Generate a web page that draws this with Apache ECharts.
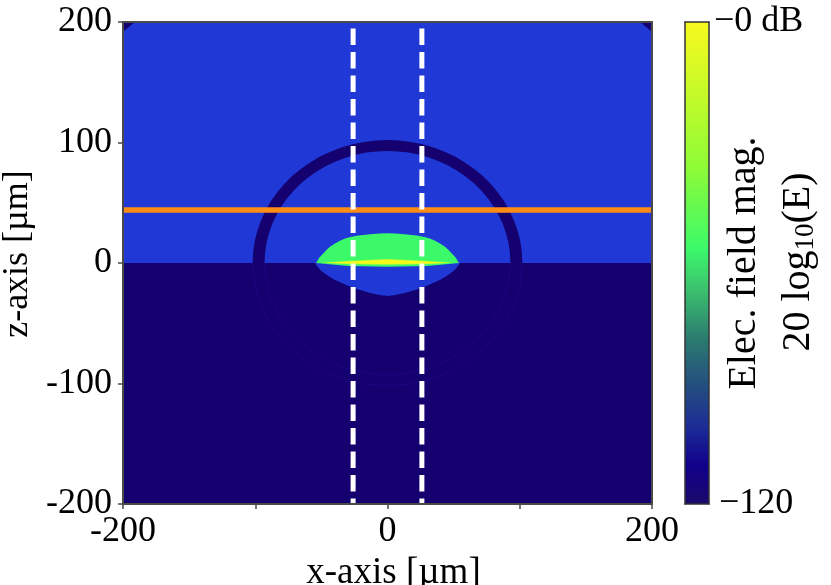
<!DOCTYPE html>
<html><head><meta charset="utf-8">
<style>html,body{margin:0;padding:0;background:#fff}#c{width:831px;height:585px}</style>
<script src="https://cdn.jsdelivr.net/npm/echarts@6/dist/echarts.min.js"></script>
</head><body><div id="c"></div>
<script>
// Axis ticks
const xTicks = [-200, -100, 0, 100, 200];
const xTickLabels = ['-200', '', '0', '', '200'];
const zTicks = [-200, -100, 0, 100, 200];
const zTickLabels = ['-200', '-100', '0', '100', '200'];

// Field regions as [x, z] in micrometres
const upperRegion = [[-200, 0], [200, 0], [200, 200], [-200, 200]];
const lowerRegion = [[-200, -200], [200, -200], [200, 0], [-200, 0]];
const cornerLeft = [[-200, 200], [-191, 200], [-200, 192]];
const cornerRight = [[200, 200], [191, 200], [200, 192]];
const ringUpper = [[102, 0], [101.6, 8.9], [100.5, 17.7], [98.5, 26.4], [95.8, 34.9], [92.4, 43.1], [88.3, 51], [83.5, 58.5], [78.1, 65.6], [72.1, 72.1], [65.6, 78.1], [58.5, 83.5], [51, 88.3], [43.1, 92.4], [34.9, 95.8], [26.4, 98.5], [17.7, 100.5], [8.9, 101.6], [0, 102],
  [-8.9, 101.6], [-17.7, 100.5], [-26.4, 98.5], [-34.9, 95.8], [-43.1, 92.4], [-51, 88.3], [-58.5, 83.5], [-65.6, 78.1], [-72.1, 72.1], [-78.1, 65.6], [-83.5, 58.5], [-88.3, 51], [-92.4, 43.1], [-95.8, 34.9], [-98.5, 26.4], [-100.5, 17.7], [-101.6, 8.9], [-102, 0],
  [-93, 0], [-92.6, 8.1], [-91.6, 16.1], [-89.8, 24.1], [-87.4, 31.8], [-84.3, 39.3], [-80.5, 46.5], [-76.2, 53.3], [-71.2, 59.8], [-65.8, 65.8], [-59.8, 71.2], [-53.3, 76.2], [-46.5, 80.5], [-39.3, 84.3], [-31.8, 87.4], [-24.1, 89.8], [-16.1, 91.6], [-8.1, 92.6], [0, 93],
  [8.1, 92.6], [16.1, 91.6], [24.1, 89.8], [31.8, 87.4], [39.3, 84.3], [46.5, 80.5], [53.3, 76.2], [59.8, 71.2], [65.8, 65.8], [71.2, 59.8], [76.2, 53.3], [80.5, 46.5], [84.3, 39.3], [87.4, 31.8], [89.8, 24.1], [91.6, 16.1], [92.6, 8.1], [93, 0]];
const ringFaintOuter = [[-102, 0], [-100.5, -17.7], [-95.8, -34.9], [-88.3, -51], [-78.1, -65.6], [-65.6, -78.1], [-51, -88.3], [-34.9, -95.8], [-17.7, -100.5], [0, -102],
  [17.7, -100.5], [34.9, -95.8], [51, -88.3], [65.6, -78.1], [78.1, -65.6], [88.3, -51], [95.8, -34.9], [100.5, -17.7], [102, 0]];
const ringFaintInner = [[-93, 0], [-91.6, -16.1], [-87.4, -31.8], [-80.5, -46.5], [-71.2, -59.8], [-59.8, -71.2], [-46.5, -80.5], [-31.8, -87.4], [-16.1, -91.6], [0, -93],
  [16.1, -91.6], [31.8, -87.4], [46.5, -80.5], [59.8, -71.2], [71.2, -59.8], [80.5, -46.5], [87.4, -31.8], [91.6, -16.1], [93, 0]];
const lensLower = [[-55, 0], [-51, -5.5], [-47.5, -8.8], [-43.5, -11.6], [-40, -13.8], [-36, -15.8], [-32, -17.8], [-28.4, -19.4], [-22, -22], [-13, -24.9], [-6, -26.5], [0, -27.4],
  [6, -26.5], [13, -24.9], [22, -22], [28.4, -19.4], [32, -17.8], [36, -15.8], [40, -13.8], [43.5, -11.6], [47.5, -8.8], [51, -5.5], [55, 0]];
const lensUpper = [[-54, 0], [-51.5, 4.5], [-49, 7.5], [-46, 11], [-43.5, 13.5], [-40, 16], [-36, 18.5], [-32, 20.3], [-28, 21.6], [-22, 22.8], [-13, 23.8], [-6, 24.4], [0, 24.7],
  [6, 24.4], [13, 23.8], [22, 22.8], [28, 21.6], [32, 20.3], [36, 18.5], [40, 16], [43.5, 13.5], [46, 11], [49, 7.5], [51.5, 4.5], [54, 0], [30, -2.4], [0, -3.2], [-30, -2.4]];
const lensCoreOuter = [[-51, 0.3], [-28, 1.8], [0, 3.3], [28, 1.8], [50, 0.3], [28, -1], [0, -1.4], [-28, -1]];
const lensCoreInner = [[-46, 0.3], [-28, 1.3], [0, 2.7], [28, 1.3], [46, 0.3], [28, -0.5], [0, -0.8], [-28, -0.5]];

// Overlay lines
const dashLeft = [[-26, 200], [-26, -200]];
const dashRight = [[26, 200], [26, -200]];
const horizontalLine = [[-200, 44], [200, 44]];

// Colour bar
const colorbarRange = [-120, 0];
const colorbarStops = [
  [0, '#f7f91e'], [0.15, '#c4fa28'], [0.3, '#8ffb36'], [0.47, '#3cf96a'], [0.55, '#3cc46e'],
  [0.66, '#2b7a70'], [0.75, '#24507f'], [0.84, '#1c2c96'], [0.92, '#11008a'], [1, '#1a0a6c']];

const C = { blue: '#1f38d6', navy: '#150070', green: '#3cf96a', lime: '#b8f936', yellow: '#f6fa1a', orange: '#ff8c14', frame: '#4a4a4a' };
const FONT = '"Liberation Serif", serif';
const INK = '#000';

function poly(points, color) {
  return {
    type: 'custom', coordinateSystem: 'cartesian2d', xAxisIndex: 0, yAxisIndex: 0, silent: true, clip: true,
    data: points, encode: { x: 0, y: 1 },
    renderItem(params, api) {
      if (params.dataIndex !== 0) return;
      return { type: 'polygon', shape: { points: points.map(p => api.coord(p)) }, style: { fill: color } };
    }
  };
}
function line(points, color, width, extra) {
  return {
    type: 'line', xAxisIndex: 0, yAxisIndex: 0, data: points, showSymbol: false, symbol: 'none', silent: true,
    lineStyle: Object.assign({ color: color, width: width, cap: 'butt' }, extra || {})
  };
}

const chart = echarts.init(document.getElementById('c'), null, { renderer: 'canvas' });
chart.setOption({
  animation: false,
  backgroundColor: '#fff',
  grid: [
    { left: 123, top: 22, width: 529, height: 482, outerBoundsMode: 'none' },
    { left: 685, top: 22, width: 24, height: 482, outerBoundsMode: 'none' }
  ],
  xAxis: [
    { gridIndex: 0, type: 'value', min: -200, max: 200, interval: 100, z: 5, position: 'bottom',
      name: 'x-axis [µm]', nameLocation: 'middle', nameGap: 40,
      nameTextStyle: { fontFamily: FONT, fontSize: 37, color: INK, padding: [0, 0, 0, 12] },
      axisLine: { onZero: false, lineStyle: { color: C.frame, width: 2 } },
      axisTick: { length: 5, lineStyle: { color: C.frame, width: 1.5 }, customValues: xTicks },
      axisLabel: { fontFamily: FONT, fontSize: 36, color: INK, margin: 10, customValues: xTicks,
        formatter: v => xTickLabels[xTicks.indexOf(v)] || '', showMinLabel: true, showMaxLabel: true },
      splitLine: { show: false } },
    { gridIndex: 0, type: 'value', min: -200, max: 200, position: 'top', z: 5,
      axisLine: { onZero: false, lineStyle: { color: C.frame, width: 2 } }, axisTick: { show: false }, axisLabel: { show: false }, splitLine: { show: false } },
    { gridIndex: 1, type: 'value', min: 0, max: 1, z: 5, position: 'bottom',
      axisLine: { onZero: false, lineStyle: { color: '#333', width: 1.5 } }, axisTick: { show: false }, axisLabel: { show: false }, splitLine: { show: false } },
    { gridIndex: 1, type: 'value', min: 0, max: 1, z: 5, position: 'top',
      axisLine: { onZero: false, lineStyle: { color: '#333', width: 1.5 } }, axisTick: { show: false }, axisLabel: { show: false }, splitLine: { show: false } }
  ],
  yAxis: [
    { gridIndex: 0, type: 'value', min: -200, max: 200, interval: 100, z: 5, position: 'left',
      name: 'z-axis [µm]', nameLocation: 'middle', nameGap: 22, nameRotate: 90,
      nameTextStyle: { fontFamily: FONT, fontSize: 36, color: INK, padding: [0, 0, 0, 18] },
      axisLine: { onZero: false, lineStyle: { color: C.frame, width: 2 } },
      axisTick: { length: 5, lineStyle: { color: C.frame, width: 1.5 }, customValues: zTicks },
      axisLabel: { fontFamily: FONT, fontSize: 36, color: INK, margin: 11, customValues: zTicks,
        formatter: v => zTickLabels[zTicks.indexOf(v)], showMinLabel: true, showMaxLabel: true },
      splitLine: { show: false } },
    { gridIndex: 0, type: 'value', min: -200, max: 200, position: 'right', z: 5,
      axisLine: { onZero: false, lineStyle: { color: C.frame, width: 2 } }, axisTick: { show: false }, axisLabel: { show: false }, splitLine: { show: false } },
    { gridIndex: 1, type: 'value', min: colorbarRange[0], max: colorbarRange[1], position: 'right', z: 5, interval: 120,
      axisLine: { onZero: false, lineStyle: { color: '#333', width: 1.5 } }, axisTick: { show: false }, splitLine: { show: false },
      axisLabel: { fontFamily: FONT, fontSize: 36, color: INK, margin: 5, align: 'left', showMinLabel: true, showMaxLabel: true,
        formatter: v => v === 0 ? '\u22120 dB' : '{p|\u2212120}',
        rich: { p: { fontFamily: FONT, fontSize: 36, color: INK, padding: [0, 0, 0, 5] } } } },
    { gridIndex: 1, type: 'value', min: colorbarRange[0], max: colorbarRange[1], position: 'left', z: 5,
      axisLine: { onZero: false, lineStyle: { color: '#333', width: 1.5 } }, axisTick: { show: false }, axisLabel: { show: false }, splitLine: { show: false } }
  ],
  series: [
    poly(upperRegion, C.blue),
    poly(lowerRegion, C.navy),
    poly(cornerLeft, C.navy),
    poly(cornerRight, C.navy),
    poly(ringUpper, C.navy),
    line(ringFaintOuter, '#190680', 1, {}),
    line(ringFaintInner, '#190680', 1, {}),
    poly(lensLower, C.blue),
    poly(lensUpper, C.green),
    poly(lensCoreOuter, C.lime),
    poly(lensCoreInner, C.yellow),
    line(horizontalLine, C.orange, 5.5),
    line(dashLeft, '#ffffff', 5, { type: [16.5, 7], dashOffset: 17 }),
    line(dashRight, '#ffffff', 5, { type: [16.5, 7], dashOffset: 17 }),
    {
      type: 'custom', coordinateSystem: 'cartesian2d', xAxisIndex: 2, yAxisIndex: 2, silent: true,
      data: [[0, colorbarRange[0], 1, colorbarRange[1]]], encode: { x: [0, 2], y: [1, 3] },
      renderItem(params, api) {
        const a = api.coord([api.value(0), api.value(3)]);
        const b = api.coord([api.value(2), api.value(1)]);
        return { type: 'rect', shape: { x: a[0], y: a[1], width: b[0] - a[0], height: b[1] - a[1] },
          style: { fill: new echarts.graphic.LinearGradient(0, 0, 0, 1, colorbarStops.map(s => ({ offset: s[0], color: s[1] }))) } };
      }
    }
  ],
  graphic: [
    { type: 'text', x: 744, y: 263, rotation: Math.PI / 2, silent: true,
      style: { text: 'Elec. field mag.', fontFamily: FONT, fontSize: 40, fill: INK, align: 'center', verticalAlign: 'middle' } },
    { type: 'text', x: 798, y: 262, rotation: Math.PI / 2, silent: true,
      style: { text: '{n|20 log}{s|10}{n|(E)}', fill: INK, align: 'center', verticalAlign: 'middle',
        rich: { n: { fontFamily: FONT, fontSize: 40, fill: INK, lineHeight: 42 },
                s: { fontFamily: FONT, fontSize: 27, fill: INK, padding: [16, 0, 0, 0] } } } }
  ]
});
</script></body></html>
